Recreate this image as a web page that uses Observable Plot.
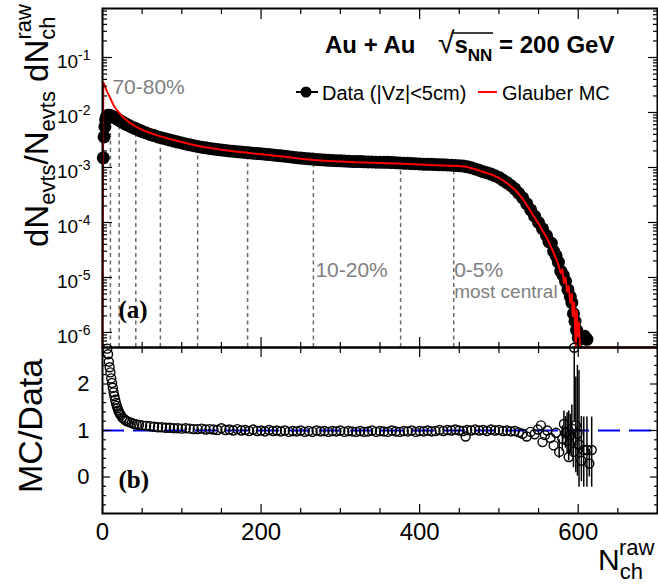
<!DOCTYPE html>
<html><head><meta charset="utf-8">
<script src="https://cdn.jsdelivr.net/npm/d3@7"></script>
<script src="https://cdn.jsdelivr.net/npm/@observablehq/plot@0.6"></script>
<style>
body{margin:0;background:#fff;}
#wrap{position:relative;width:658px;height:584px;overflow:hidden;font-family:"Liberation Sans",Arial,Helvetica,sans-serif;}
#wrap svg{overflow:visible}
</style></head><body><div id="wrap"></div>
<script>
// ---------- data ----------
const dataNch = [1,2,3,4,5,6,7,8,9,10,11,12,13,14,15,16,18,20,22,24,26,28,30,33,36,39,42,45,48,51,55,60,65,70,75,80,85,90,95,100,105,110,115,120,125,130,135,140,145,150,155,160,165,170,175,180,185,190,195,200,205,210,215,220,225,230,235,240,245,250,255,260,265,270,275,280,285,290,295,300,305,310,315,320,325,330,335,340,345,350,355,360,365,370,375,380,385,390,395,400,405,410,415,420,425,430,435,440,445,450,455,460,465,470,475,480,485,490,495,500,505,510,515,520,525,530,535,540,545,550,555,560,563,566,569,572,575,578,581,584,587,590,592,594,596,598,600,602,605,608,611];
const dataVal = [1.5e-3,3.6e-3,5.5e-3,7.4e-3,8.3e-3,8.7e-3,8.9e-3,8.9e-3,8.8e-3,8.7e-3,8.6e-3,8.5e-3,8.4e-3,8.2e-3,8.1e-3,8.0e-3,7.7e-3,7.4e-3,7.1e-3,6.8e-3,6.6e-3,6.3e-3,6.1e-3,5.8e-3,5.5e-3,5.3e-3,5.05e-3,4.85e-3,4.65e-3,4.45e-3,4.25e-3,4.0e-3,3.8e-3,3.6e-3,3.45e-3,3.3e-3,3.15e-3,3.02e-3,2.9e-3,2.79e-3,2.68e-3,2.58e-3,2.49e-3,2.41e-3,2.34e-3,2.28e-3,2.22e-3,2.17e-3,2.12e-3,2.08e-3,2.04e-3,2.0e-3,1.97e-3,1.94e-3,1.91e-3,1.88e-3,1.85e-3,1.82e-3,1.79e-3,1.77e-3,1.74e-3,1.72e-3,1.69e-3,1.66e-3,1.63e-3,1.6e-3,1.57e-3,1.54e-3,1.51e-3,1.48e-3,1.46e-3,1.44e-3,1.42e-3,1.4e-3,1.38e-3,1.37e-3,1.35e-3,1.34e-3,1.33e-3,1.32e-3,1.31e-3,1.3e-3,1.29e-3,1.28e-3,1.28e-3,1.27e-3,1.26e-3,1.26e-3,1.25e-3,1.25e-3,1.24e-3,1.24e-3,1.23e-3,1.22e-3,1.21e-3,1.2e-3,1.19e-3,1.18e-3,1.17e-3,1.16e-3,1.15e-3,1.14e-3,1.14e-3,1.13e-3,1.12e-3,1.12e-3,1.11e-3,1.1e-3,1.09e-3,1.08e-3,1.06e-3,1.03e-3,9.9e-4,9.4e-4,8.9e-4,8.4e-4,8.0e-4,7.6e-4,7.1e-4,6.6e-4,5.9e-4,5.3e-4,4.7e-4,4.1e-4,3.4e-4,2.8e-4,2.2e-4,1.7e-4,1.3e-4,1.0e-4,7.7e-5,5.8e-5,4.5e-5,4.2e-5,3.0e-5,2.5e-5,1.9e-5,1.3e-5,1.1e-5,8.5e-6,6.0e-6,4.5e-6,3.5e-6,2.2e-6,1.6e-6,1.1e-6,8e-7,7.5e-7,8e-7,8.5e-7,7.5e-7];

const mcNch = [0,1,2,3,4,5,6,8,10,12,14,16,18,20,23,26,30,35,40,45,50,55,60,70,80,90,100,110,120,130,140,150,160,170,180,190,200,210,220,230,240,250,260,270,280,290,300,320,340,360,380,400,420,440,450,460,470,480,490,500,510,520,530,540,550,560,565,570,575,578,580,582,584,586,588,590,592,593,595,596,597,598,600,601,602,700];
const mcVal = [0,3.5e-2,3.3e-2,3.05e-2,2.8e-2,2.55e-2,2.35e-2,2.05e-2,1.8e-2,1.55e-2,1.36e-2,1.22e-2,1.12e-2,1.03e-2,9.2e-3,8.3e-3,7.3e-3,6.4e-3,5.75e-3,5.25e-3,4.85e-3,4.5e-3,4.25e-3,3.8e-3,3.45e-3,3.17e-3,2.9e-3,2.67e-3,2.49e-3,2.34e-3,2.22e-3,2.11e-3,2.02e-3,1.94e-3,1.87e-3,1.8e-3,1.74e-3,1.68e-3,1.62e-3,1.56e-3,1.5e-3,1.44e-3,1.4e-3,1.36e-3,1.33e-3,1.3e-3,1.28e-3,1.24e-3,1.22e-3,1.2e-3,1.17e-3,1.13e-3,1.1e-3,1.08e-3,1.06e-3,1.02e-3,9.3e-4,8.3e-4,7.5e-4,6.5e-4,5.2e-4,4.0e-4,2.7e-4,1.6e-4,9.5e-5,5.4e-5,3.8e-5,2.6e-5,1.7e-5,1.2e-5,1.4e-5,8e-6,1.0e-5,5.5e-6,7e-6,3.5e-6,5e-6,2e-6,3.5e-6,1.2e-6,0,2.5e-6,8e-7,1.5e-6,0,0];

const ratioNch = [6,7,8,9,10,11,12,13,14,15,16,17,18,19,20,21,22,23,25,27,29,31,34,37,40,43,46,50,55,60,65,70,75,80,85,90,95,100,105,110,115,120,125,130,135,140,145,150,155,160,165,170,175,180,185,190,195,200,205,210,215,220,225,230,235,240,245,250,255,260,265,270,275,280,285,290,295,300,305,310,315,320,325,330,335,340,345,350,355,360,365,370,375,380,385,390,395,400,405,410,415,420,425,430,435,440,445,450,455,458,460,465,470,475,480,485,490,495,500,505,510,515,520,525,530,535,540,545,549,553,555,558,561,565,569,572];
const ratioVal = [2.76,2.64,2.48,2.36,2.25,2.12,2.02,1.92,1.82,1.74,1.66,1.59,1.53,1.48,1.43,1.39,1.36,1.33,1.28,1.25,1.22,1.2,1.18,1.16,1.14,1.13,1.12,1.11,1.1,1.09,1.08,1.07,1.07,1.06,1.06,1.05,1.05,1.04,1.05,1.04,1.03,1.03,1.04,1.02,1.03,1.02,1.01,1.05,1.01,1.02,1.0,1.03,1.0,1.01,0.99,1.02,0.99,1.0,0.98,1.01,0.99,1.0,0.98,1.0,0.97,0.99,0.98,1.0,0.97,0.99,0.97,1.0,0.98,0.99,0.97,0.99,0.98,1.0,0.97,0.99,0.98,0.97,0.99,0.97,0.98,1.0,0.97,0.99,0.98,0.97,1.0,0.98,0.97,0.99,0.98,1.0,0.97,0.99,0.98,1.0,0.98,0.99,1.01,0.99,1.01,1.0,1.02,1.0,0.99,0.87,1.01,1.0,1.02,1.0,1.01,0.99,1.02,1.0,1.01,0.99,1.0,0.98,0.99,0.96,0.93,0.87,0.97,0.92,1.02,1.11,0.75,0.9,1.0,0.84,0.68,0.95];

const tailNch = [576,580,582,584,586,588,590,592,594,595,597,599,601,604,607,611,614,617];
const tailVal = [0.54,0.82,1.14,0.95,0.78,0.43,0.9,1.04,0.54,2.78,1.11,0.93,0.7,0.35,0.58,0.58,0.29,0.58];
const tailLo  = [0.4,0.55,0.85,0.62,0.5,0.35,0.5,0.45,0.2,1.18,0.09,0.02,-0.22,-0.1,-0.22,-0.22,0.0,-0.22];
const tailHi  = [0.8,1.1,1.42,1.3,1.38,1.42,1.35,1.55,1.0,4.0,2.15,2.4,2.29,1.3,1.29,1.29,0.6,1.29];

const cutNch = [10,21,42,73,120,183,266,376,443];

const noteText = ["70-80%","10-20%","0-5%","most central"];
const noteNch  = [12.5,268.5,443.5,443.5];
const noteVal  = [0.0221,1.0e-5,1.0e-5,4.3e-6];

const xTickLabels = [0,200,400,600];
const xMajor = [0,200,400,600];
const yRatioLabels = [0,1,2];

// ---------- build ----------
const FONT = '"Liberation Sans", Arial, Helvetica, sans-serif';
const wrap = document.getElementById("wrap");
const yMinTop = 5.33e-7, yMaxTop = 0.778;

const data = dataNch.map((n,i)=>({n, v:dataVal[i]}));
const mc = mcNch.map((n,i)=>({n, v: mcVal[i] > 0 ? mcVal[i] : yMinTop*1e-3}));
const cuts = cutNch.map(n => {
  const best = data.reduce((a,b)=> Math.abs(b.n-n) < Math.abs(a.n-n) ? b : a);
  return {n, top: best.v};
});
const notes = noteText.map((t,i)=>({t, n:noteNch[i], v:noteVal[i]}));
const ratio = ratioNch.map((n,i)=>({n, v:ratioVal[i]}));
const tail = tailNch.map((n,i)=>({n, v:tailVal[i], lo:tailLo[i], hi:tailHi[i]}));
const allRatio = ratio.concat(tail);

const xMinor = d3.range(0, 701, 50).filter(d => !xMajor.includes(d));
const logMajor = [], logMinor = [];
for (let e = -7; e <= 0; e++) {
  const p = +("1e" + e);
  if (p >= yMinTop && p <= yMaxTop) logMajor.push(p);
  for (let k = 2; k <= 9; k++) { const v = +(k + "e" + e); if (v >= yMinTop && v <= yMaxTop) logMinor.push(v); }
}
const rMinor = d3.range(-6, 28, 2).map(d => d/10).filter(d => !Number.isInteger(d));

function xTickMarks(anchor, vals, size){
  return Plot.axisX(vals, {anchor, tickSize:size, dy: anchor==="bottom" ? -size : size, fill:"none", label:null, strokeWidth:1.2});
}
function yTickMarks(anchor, vals, size){
  return Plot.axisY(vals, {anchor, tickSize:size, dx: anchor==="left" ? size : -size, fill:"none", label:null, strokeWidth:1.2});
}

const topPlot = Plot.plot({
  width:658, height:347, marginTop:8, marginBottom:0, marginLeft:102, marginRight:1,
  style:{fontFamily:FONT, background:"transparent", overflow:"visible", color:"black"},
  x:{domain:[0,700]},
  y:{type:"log", domain:[yMinTop, yMaxTop], clamp:true},
  marks:[
    Plot.ruleX(cuts, {x:"n", y1:yMinTop, y2:"top", stroke:"#6a6a6a", strokeWidth:1.5, strokeDasharray:"4,3.5"}),
    Plot.dot(data, {x:"n", y:"v", r:6.5, fill:"black", stroke:"none"}),
    Plot.line(mc, {x:"n", y:"v", stroke:"#ff0000", strokeWidth:2}),
    Plot.text(notes, {x:"n", y:"v", text:"t", textAnchor:"start", lineAnchor:"bottom", fill:"#7f7f7f",
      fontSize: d => d.t === "most central" ? 19 : 21}),
    Plot.text(["(a)"], {frameAnchor:"bottom-left", dx:16, dy:-30, text:d=>d, textAnchor:"start", lineAnchor:"bottom",
      fontFamily:'"Liberation Serif","Times New Roman",serif', fontWeight:"bold", fontSize:25}),
    Plot.frame({stroke:"black", strokeWidth:2}),
    xTickMarks("bottom", xMinor, 5), xTickMarks("bottom", xMajor, 10),
    xTickMarks("top", xMinor, 5), xTickMarks("top", xMajor, 10),
    yTickMarks("left", logMinor, 5), yTickMarks("left", logMajor, 10),
    yTickMarks("right", logMinor, 5), yTickMarks("right", logMajor, 10),
    Plot.axisY(logMajor, {anchor:"left", tickSize:0, tickPadding:12, dy:4, fontSize:19, label:null,
      tickFormat: d => "10^" + Math.round(Math.log10(d))})
  ]
});
topPlot.style.position = "absolute"; topPlot.style.left = "0px"; topPlot.style.top = "0px";
wrap.appendChild(topPlot);

d3.select(topPlot).selectAll('g[aria-label="y-axis tick label"] text').each(function(){
  const s = this.textContent; if (!s.includes("^")) return;
  const [b, e] = s.split("^");
  const t = d3.select(this); t.text(null);
  t.append("tspan").text(b);
  t.append("tspan").attr("dy", "-8").attr("font-size", "14px").text(e);
});

const botPlot = Plot.plot({
  width:658, height:237, marginTop:0, marginBottom:71, marginLeft:102, marginRight:1,
  style:{fontFamily:FONT, background:"transparent", overflow:"visible", color:"black"},
  x:{domain:[0,700]},
  y:{domain:[-0.785, 2.785]},
  marks:[
    Plot.ruleY([1], {stroke:"#0000ff", strokeWidth:2, strokeDasharray:"22,9"}),
    Plot.ruleX(tail, {x:"n", y1:"lo", y2:"hi", stroke:"black", strokeWidth:1.5, clip:true}),
    Plot.dot(allRatio, {x:"n", y:"v", r:4.5, stroke:"black", strokeWidth:1.4, fill:"none"}),
    Plot.text(["(b)"], {frameAnchor:"bottom-left", dx:16, dy:-26, text:d=>d, textAnchor:"start", lineAnchor:"bottom",
      fontFamily:'"Liberation Serif","Times New Roman",serif', fontWeight:"bold", fontSize:25}),
    Plot.frame({stroke:"black", strokeWidth:2}),
    xTickMarks("bottom", xMinor, 5), xTickMarks("bottom", xMajor, 9),
    xTickMarks("top", xMinor, 5), xTickMarks("top", xMajor, 9),
    yTickMarks("left", rMinor, 4), yTickMarks("left", yRatioLabels, 8),
    yTickMarks("right", rMinor, 4), yTickMarks("right", yRatioLabels, 8),
    Plot.axisX(xTickLabels, {anchor:"bottom", tickSize:0, tickPadding:9, fontSize:24, label:null}),
    Plot.axisY(yRatioLabels, {anchor:"left", tickSize:0, tickPadding:13, fontSize:22, label:null})
  ]
});
botPlot.style.position = "absolute"; botPlot.style.left = "0px"; botPlot.style.top = "347px";
wrap.appendChild(botPlot);

// ---------- titles, legend, axis titles ----------
const ov = d3.select(wrap).append("svg")
  .attr("width", 658).attr("height", 584)
  .style("position","absolute").style("left","0px").style("top","0px").style("pointer-events","none")
  .attr("font-family", FONT);

// y title (top)
const yt = ov.append("text").attr("transform","translate(48,247) rotate(-90)").attr("font-size", 33);
yt.append("tspan").text("dN");
yt.append("tspan").attr("font-size",22).attr("dy",7).text("evts");
yt.append("tspan").attr("dy",-7).text("/N");
yt.append("tspan").attr("font-size",22).attr("dy",7).text("evts");
yt.append("tspan").attr("dy",-7).text("\u00a0dN");
yt.append("tspan").attr("font-size",22).attr("dy",7).text("ch");
yt.append("tspan").attr("font-size",22).attr("dx",-23).attr("dy",-24).text("raw");

// y title (bottom)
ov.append("text").attr("transform","translate(42,493) rotate(-90)").attr("font-size",34).text("MC/Data");

// x title
const xt = ov.append("text").attr("x",598).attr("y",570).attr("font-size",30);
xt.append("tspan").text("N");
xt.append("tspan").attr("font-size",22).attr("dy",9).text("ch");
xt.append("tspan").attr("font-size",22).attr("dx",-24).attr("dy",-24).text("raw");

// title
const tt = ov.append("text").attr("x",325).attr("y",53).attr("font-size",24).attr("font-weight","bold");
tt.append("tspan").text("Au + Au");
tt.append("tspan").attr("x",438).attr("font-weight","normal").attr("font-size",30).text("\u221a");
tt.append("tspan").text("s");
tt.append("tspan").attr("font-size",17).attr("dy",8).text("NN");
tt.append("tspan").attr("dy",-8).text(" = 200 GeV");
ov.append("line").attr("x1",452).attr("x2",493).attr("y1",33).attr("y2",33).attr("stroke","black").attr("stroke-width",1.5);

// legend
ov.append("line").attr("x1",296).attr("x2",318).attr("y1",92).attr("y2",92).attr("stroke","black").attr("stroke-width",2);
ov.append("circle").attr("cx",306).attr("cy",92).attr("r",5.5).attr("fill","black");
ov.append("text").attr("x",322).attr("y",100).attr("font-size",20).text("Data (|Vz|<5cm)");
ov.append("line").attr("x1",478).attr("x2",497).attr("y1",92).attr("y2",92).attr("stroke","#ff0000").attr("stroke-width",2);
ov.append("text").attr("x",502).attr("y",100).attr("font-size",20).text("Glauber MC");
</script></body></html>
